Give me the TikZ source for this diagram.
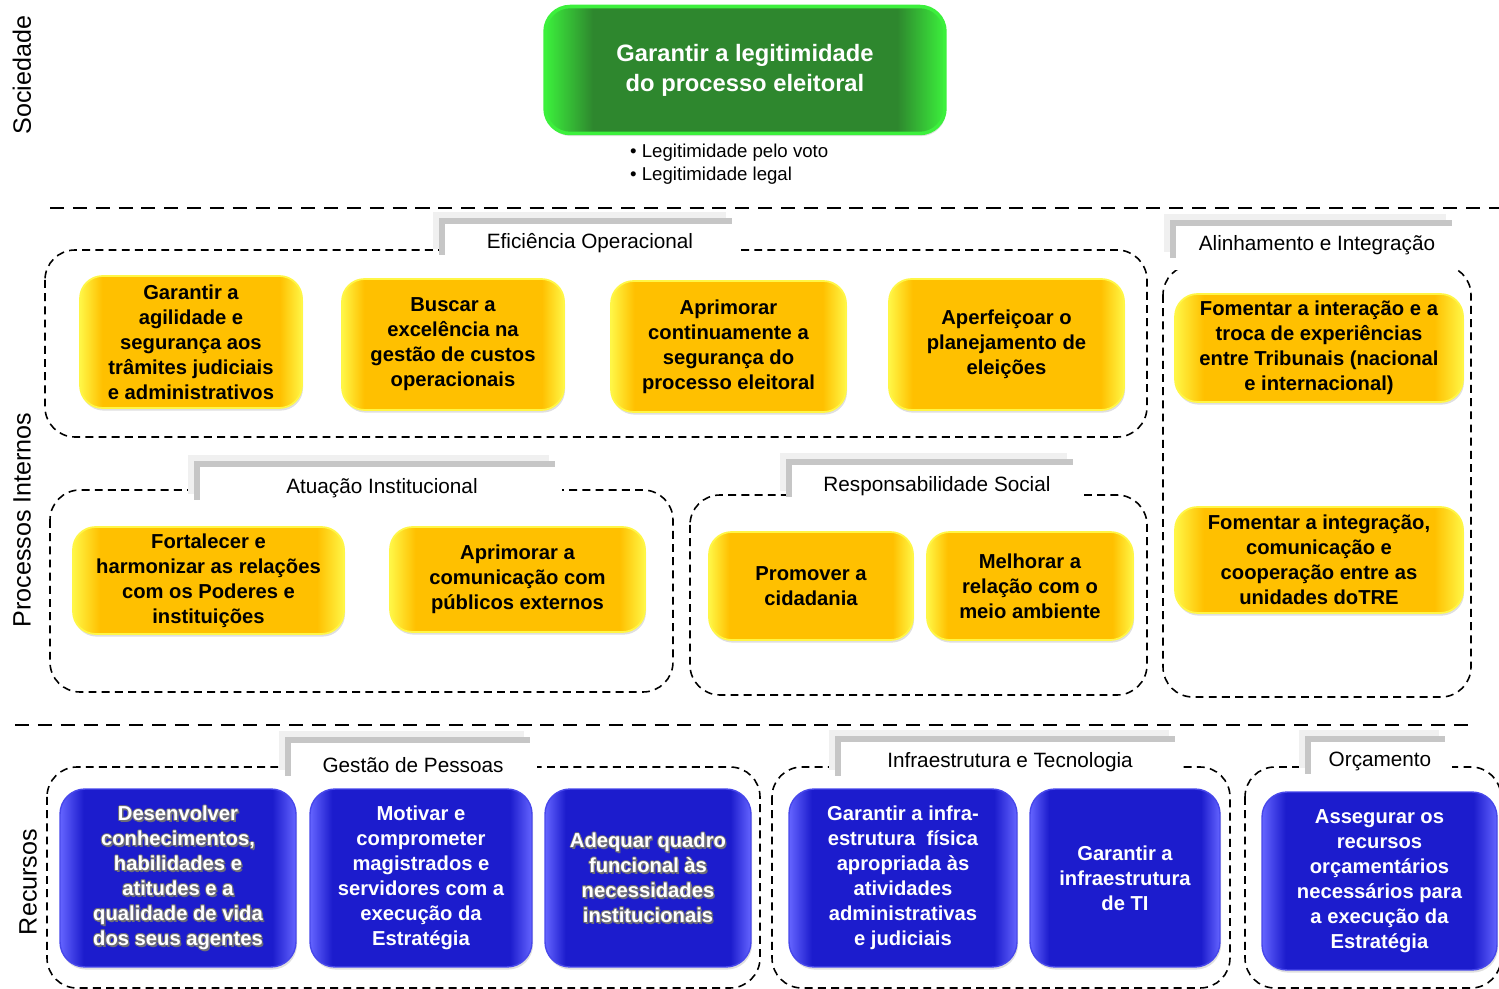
\documentclass[tikz,border=0pt]{standalone}
\usepackage{fontspec}
\setmainfont{Liberation Sans}
\usetikzlibrary{shadows}
\definecolor{yelMid}{RGB}{255,192,0}
\definecolor{yelEdge}{RGB}{255,246,70}
\definecolor{bluMid}{RGB}{28,28,205}
\definecolor{bluEdge}{RGB}{100,100,255}
\definecolor{grnMid}{RGB}{46,135,46}
\definecolor{grnEdge}{RGB}{60,240,60}
\definecolor{olGray}{RGB}{110,110,120}
\pgfdeclarehorizontalshading{yshade}{100bp}{color(0bp)=(yelEdge); color(25bp)=(yelEdge); color(30bp)=(yelMid); color(70bp)=(yelMid); color(75bp)=(yelEdge); color(100bp)=(yelEdge)}
\pgfdeclarehorizontalshading{bshade}{100bp}{color(0bp)=(bluEdge); color(25bp)=(bluEdge); color(30bp)=(bluMid); color(70bp)=(bluMid); color(75bp)=(bluEdge); color(100bp)=(bluEdge)}
\pgfdeclarehorizontalshading{gshade}{100bp}{color(0bp)=(grnEdge); color(25bp)=(grnEdge); color(31bp)=(grnMid); color(69bp)=(grnMid); color(75bp)=(grnEdge); color(100bp)=(grnEdge)}

\begin{document}
\begin{tikzpicture}[
        x=0.02cm, y=-0.02cm,
        btext/.style={inner sep=0pt, align=center, font=\bfseries\fontsize{11.5}{14.2}\selectfont},
        goal/.style={btext, drop shadow={opacity=0.25, shadow xshift=0.6pt, shadow yshift=-1.5pt}},
        ybox/.style={goal, rounded corners=0.45cm, shading=yshade, draw=yelEdge, line width=1pt},
        bbox/.style={goal, rounded corners=0.5cm, shading=bshade, draw=bluEdge!60!bluMid, line width=0.8pt, text=white},
        gbox/.style={goal, rounded corners=0.5cm, shading=gshade, draw=grnEdge, line width=2pt, text=white,
            font=\bfseries\fontsize{13.5}{17}\selectfont},
        grp/.style={rounded corners=0.6cm, line width=0.9pt, dash pattern=on 4.5pt off 3pt},
        sep/.style={line width=1.6pt, dash pattern=on 8pt off 5pt},
        tabmain/.style={draw=gray!45, line width=3pt},
        tabshade/.style={draw=gray!12, line width=3.5pt},
        grplabel/.style={font=\fontsize{11.8}{14}\selectfont},
        side/.style={rotate=90, font=\fontsize{14.3}{16}\selectfont}
    ]
    \useasboundingbox (0,0) rectangle (1499,989);

    % Perspectives
    \node[side] (soc) at (22,75) {Sociedade};
    \node[side] (proc) at (22,520) {Processos Internos};
    \node[side] (rec) at (28,882) {Recursos};

    \draw[sep] (50,208) -- (1499,208);
    \draw[sep] (15,725) -- (1475,725);

    % Sociedade
    \node[gbox, minimum width=8cm, minimum height=2.54cm] (legit) at (745,70) {
        Garantir a legitimidade\\do processo eleitoral
    };
    \node[anchor=west, align=left, font=\fontsize{10.6}{13}\selectfont] (bul) at (624,164) {
        \textbullet\ Legitimidade pelo voto\\
        \textbullet\ Legitimidade legal
    };

    % Group frames
    \draw[grp] (45,250) rectangle (1147,437);
    \draw[grp] (1163,265) rectangle (1471,697);
    \draw[grp] (50,490) rectangle (673,692);
    \draw[grp] (690,495) rectangle (1147,695);
    \draw[grp] (47,767) rectangle (760,988);
    \draw[grp] (772,767) rectangle (1230,988);
    \draw[grp] (1245,767) rectangle (1501,988);

    % Tabs
    \fill[white] (442,221) rectangle (738,258);
    \draw[tabshade] (436,249) |- (726,215);
    \draw[tabmain] (442,255) |- (732,221);
    \node[grplabel] (efic) at (590,243) {Eficiência Operacional};

    \fill[white] (1173,223) rectangle (1458,270);
    \draw[tabshade] (1167,252) |- (1446,217);
    \draw[tabmain] (1173,258) |- (1452,223);
    \node[grplabel] (alin) at (1317,245) {Alinhamento e Integração};

    \fill[white] (197,464) rectangle (562,503);
    \draw[tabshade] (191,494) |- (549,458);
    \draw[tabmain] (197,500) |- (555,464);
    \node[grplabel] (atua) at (382,488) {Atuação Institucional};

    \fill[white] (789,462) rectangle (1080,500);
    \draw[tabshade] (783,491) |- (1067,456);
    \draw[tabmain] (789,497) |- (1073,462);
    \node[grplabel] (resp) at (937,486) {Responsabilidade Social};

    \fill[white] (288,740) rectangle (537,772);
    \draw[tabshade] (282,770) |- (524,734);
    \draw[tabmain] (288,776) |- (530,740);
    \node[grplabel] (gest) at (413,765) {Gestão de Pessoas};

    \fill[white] (838,739) rectangle (1182,772);
    \draw[tabshade] (832,770) |- (1169,733);
    \draw[tabmain] (838,776) |- (1175,739);
    \node[grplabel] (infr) at (1010,762) {Infraestrutura e Tecnologia};

    \fill[white] (1308,739) rectangle (1452,772);
    \draw[tabshade] (1302,768) |- (1439,733);
    \draw[tabmain] (1308,774) |- (1445,739);
    \node[grplabel] (orc) at (1380,761) {Orçamento};

    % Processos Internos
    \node[ybox, minimum width=4.44cm, minimum height=2.64cm] (agil) at (191,342) {
        Garantir a\\agilidade e\\segurança aos\\trâmites judiciais\\e administrativos
    };
    \node[ybox, minimum width=4.44cm, minimum height=2.62cm] (cust) at (453,344.5) {
        Buscar a\\excelência na\\gestão de custos\\operacionais
    };
    \node[ybox, minimum width=4.70cm, minimum height=2.62cm] (segu) at (728.5,346.5) {
        Aprimorar\\continuamente a\\segurança do\\processo eleitoral
    };
    \node[ybox, minimum width=4.70cm, minimum height=2.62cm] (plan) at (1006.5,344.5) {
        Aperfeiçoar o\\planejamento de\\eleições
    };
    \node[ybox, minimum width=5.76cm, minimum height=2.16cm] (inter) at (1319,348) {
        Fomentar a interação e a\\troca de experiências\\entre Tribunais (nacional\\e internacional)
    };
    \node[ybox, minimum width=5.76cm, minimum height=2.12cm] (integ) at (1319,560) {
        Fomentar a integração,\\comunicação e\\cooperação entre as\\unidades doTRE
    };
    \node[ybox, minimum width=5.42cm, minimum height=2.14cm] (pode) at (208.5,580.5) {
        Fortalecer e\\harmonizar as relações\\com os Poderes e\\instituições
    };
    \node[ybox, minimum width=5.10cm, minimum height=2.10cm] (publ) at (517.5,579.5) {
        Aprimorar a\\comunicação com\\públicos externos
    };
    \node[ybox, minimum width=4.08cm, minimum height=2.16cm] (cida) at (811,586) {
        Promover a\\cidadania
    };
    \node[ybox, minimum width=4.12cm, minimum height=2.16cm] (ambi) at (1030,586) {
        Melhorar a\\relação com o\\meio ambiente
    };

    % Recursos
    \node[bbox, minimum width=4.72cm, minimum height=3.56cm] (conh) at (178,878) {};
    \node[bbox, minimum width=4.44cm, minimum height=3.56cm] (moti) at (421,878) {
        Motivar e\\comprometer\\magistrados e\\servidores com a\\execução da\\Estratégia
    };
    \node[bbox, minimum width=4.12cm, minimum height=3.56cm] (quad) at (648,878) {};
    \node[bbox, minimum width=4.56cm, minimum height=3.56cm] (fisi) at (903,878) {
        Garantir a infra-\\estrutura\ \ física\\apropriada às\\atividades\\administrativas\\e judiciais
    };
    \node[bbox, minimum width=3.80cm, minimum height=3.56cm] (tinf) at (1125,878) {
        Garantir a\\infraestrutura\\de TI
    };
    \node[bbox, minimum width=4.70cm, minimum height=3.56cm] (orca) at (1379.5,881) {
        Assegurar os\\recursos\\orçamentários\\necessários para\\a execução da\\Estratégia
    };

    % outlined texts
    \foreach \dx/\dy in {0.55/0, -0.55/0, 0/0.55, 0/-0.55, 0.4/0.4, -0.4/0.4, 0.4/-0.4, -0.4/-0.4, 0.9/-0.9} {
        \node[btext, text=olGray] at ([shift={(\dx pt,\dy pt)}]conh.center) {Desenvolver\\conhecimentos,\\habilidades e\\atitudes e a\\qualidade de vida\\dos seus agentes};
        \node[btext, text=olGray] at ([shift={(\dx pt,\dy pt)}]quad.center) {Adequar quadro\\funcional às\\necessidades\\institucionais};
    }
    \node[btext, text=white] (conhtxt) at (conh.center) {Desenvolver\\conhecimentos,\\habilidades e\\atitudes e a\\qualidade de vida\\dos seus agentes};
    \node[btext, text=white] (quadtxt) at (quad.center) {Adequar quadro\\funcional às\\necessidades\\institucionais};
\end{tikzpicture}
\end{document}
